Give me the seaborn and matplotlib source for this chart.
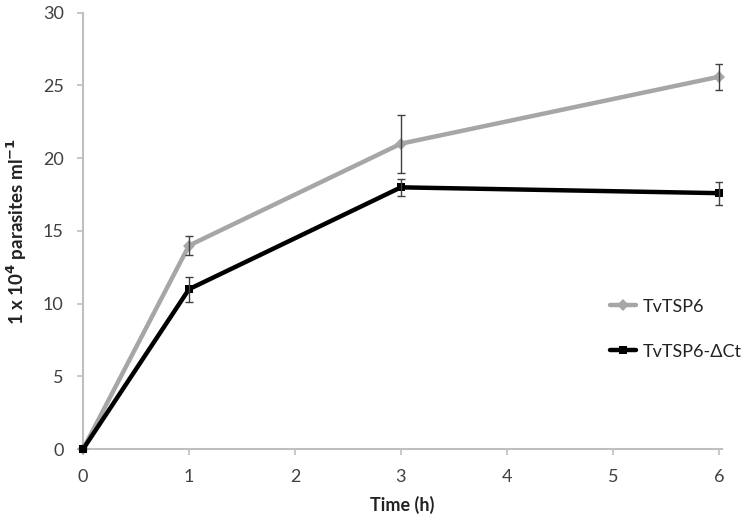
import matplotlib
matplotlib.use("Agg")
import matplotlib.pyplot as plt
import seaborn as sns
import pandas as pd

time_h = [0, 1, 3, 6]
tvtsp6 = [0, 14.0, 21.0, 25.6]
tvtsp6_err = [0, 0.65, 2.0, 0.9]
dct = [0, 11.0, 18.0, 17.6]
dct_err = [0, 0.85, 0.6, 0.8]
series_names = ["TvTSP6", "TvTSP6-\u0394Ct"]
x_ticks = [0, 1, 2, 3, 4, 5, 6]
y_ticks = [0, 5, 10, 15, 20, 25, 30]

sns.set_style("ticks")
plt.rcParams['font.family'] = ['Lato', 'DejaVu Sans']

df = pd.DataFrame({
    "time": time_h * 2,
    "value": tvtsp6 + dct,
    "series": [series_names[0]] * 4 + [series_names[1]] * 4,
})

fig = plt.figure(figsize=(7.5, 5.31), dpi=100)
ax = fig.add_axes([0.1107, 0.154, 0.852, 0.822])

colors = {series_names[0]: "#A6A6A6", series_names[1]: "#000000"}
sns.lineplot(data=df, x="time", y="value", hue="series", style="series",
             palette=colors, markers={series_names[0]: "D", series_names[1]: "s"},
             dashes=False, linewidth=3.2, markersize=6, markeredgewidth=0,
             ax=ax, zorder=3, clip_on=False)

for vals, errs in [(tvtsp6, tvtsp6_err), (dct, dct_err)]:
    xs = [t for t, e in zip(time_h, errs) if e > 0]
    ys = [v for v, e in zip(vals, errs) if e > 0]
    es = [e for e in errs if e > 0]
    ax.errorbar(xs, ys, yerr=es, fmt="none", ecolor="#404040",
                elinewidth=1, capsize=3, capthick=1, zorder=4)

ax.set_xlim(0, 6.03)
ax.set_ylim(0, 30)
ax.set_xticks(x_ticks)
ax.set_yticks(y_ticks)
ax.set_xlabel("Time (h)", fontsize=13, fontweight="bold", color="#222222", labelpad=8)
ax.set_ylabel("1 x 10$^{\\mathbf{4}}$ parasites ml$^{\\mathbf{-1}}$", fontsize=13.5,
              fontweight="bold", color="#222222", labelpad=10)
ax.tick_params(axis="both", colors="#BFBFBF", labelcolor="#404040",
               labelsize=13, length=4, width=1.2)
ax.tick_params(axis="x", pad=10)
ax.tick_params(axis="y", pad=10)
for s in ["top", "right"]:
    ax.spines[s].set_visible(False)
for s in ["left", "bottom"]:
    ax.spines[s].set_color("#BFBFBF")
    ax.spines[s].set_linewidth(1.5)

leg = ax.legend(loc="center left", bbox_to_anchor=(0.80, 0.275), frameon=False,
                fontsize=13, labelspacing=1.6, handlelength=1.4, handletextpad=0.4)
for t in leg.get_texts():
    t.set_color("#222222")

fig.savefig("out.png", dpi=100)
